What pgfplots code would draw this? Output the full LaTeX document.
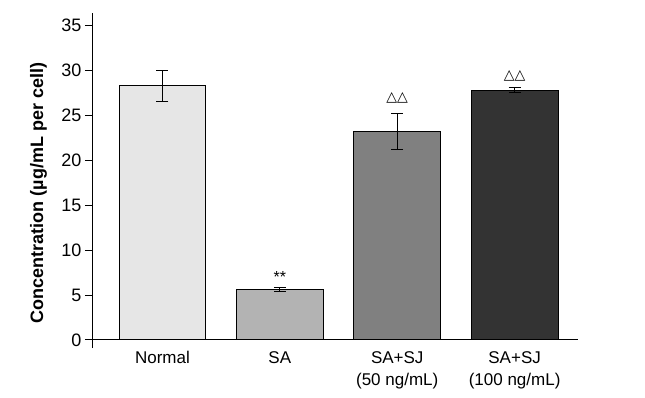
\documentclass[border=0pt]{standalone}
\usepackage{fontspec}
\setmainfont{Liberation Sans}
\newfontfamily\dejavu{DejaVu Sans}
\usepackage{pgfplots}
\pgfplotsset{compat=1.18}
\definecolor{cNormal}{HTML}{E6E6E6}
\definecolor{cSA}{HTML}{B3B3B3}
\definecolor{cSJa}{HTML}{808080}
\definecolor{cSJb}{HTML}{333333}
\begin{document}
\begin{tikzpicture}
\useasboundingbox (0,0) rectangle (645pt,397pt);
\begin{axis}[
  at={(92pt,49pt)}, anchor=south west,
  scale only axis, width=486pt, height=335pt,
  xmin=-0.6, xmax=3.54, ymin=-0.9, ymax=36.4,
  axis y line=left, axis x line=middle,
  axis line style={-, line width=0.9pt},
  ytick={0,5,...,35},
  xtick={0,1,2,3},
  xticklabels={Normal, SA, {SA+SJ\\(50 ng/mL)}, {SA+SJ\\(100 ng/mL)}},
  x tick label style={align=center, font=\fontsize{17}{22}\selectfont, yshift=-1pt},
  y tick label style={font=\fontsize{18}{20}\selectfont},
  /pgf/number format/assume math mode=true,
  tick align=outside,
  major tick length=7pt,
  x tick style={draw=none},
  y tick style={line width=0.9pt, black},
  ylabel={\bfseries Concentration (µg/mL per cell)},
  every axis y label/.style={at={(axis description cs:-0.110,0.463)}, rotate=90, anchor=center, font=\fontsize{18}{20}\selectfont},
  clip=false,
]
\addplot[ybar, bar width=0.74, fill=cNormal, draw=black, line width=0.9pt,
  error bars/.cd, y dir=both, y explicit,
  error bar style={line width=0.9pt, black},
  error mark options={rotate=90, mark size=6pt, line width=0.9pt, black}]
  coordinates {(0,28.3) +- (0,1.75)};
\addplot[ybar, bar width=0.74, fill=cSA, draw=black, line width=0.9pt,
  error bars/.cd, y dir=both, y explicit,
  error bar style={line width=0.9pt, black},
  error mark options={rotate=90, mark size=6pt, line width=0.9pt, black}]
  coordinates {(1,5.65) +- (0,0.2)};
\addplot[ybar, bar width=0.74, fill=cSJa, draw=black, line width=0.9pt,
  error bars/.cd, y dir=both, y explicit,
  error bar style={line width=0.9pt, black},
  error mark options={rotate=90, mark size=6pt, line width=0.9pt, black}]
  coordinates {(2,23.2) +- (0,2.0)};
\addplot[ybar, bar width=0.74, fill=cSJb, draw=black, line width=0.9pt,
  error bars/.cd, y dir=both, y explicit,
  error bar style={line width=0.9pt, black},
  error mark options={rotate=90, mark size=6pt, line width=0.9pt, black}]
  coordinates {(3,27.8) +- (0,0.3)};
\node[font=\fontsize{16}{16}\selectfont] at (axis cs:1,7.0) {**};
\node[font=\dejavu\fontsize{14}{14}\selectfont] at (axis cs:2,26.9) {△△};
\node[font=\dejavu\fontsize{14}{14}\selectfont] at (axis cs:3,29.4) {△△};
\end{axis}
\end{tikzpicture}
\end{document}
